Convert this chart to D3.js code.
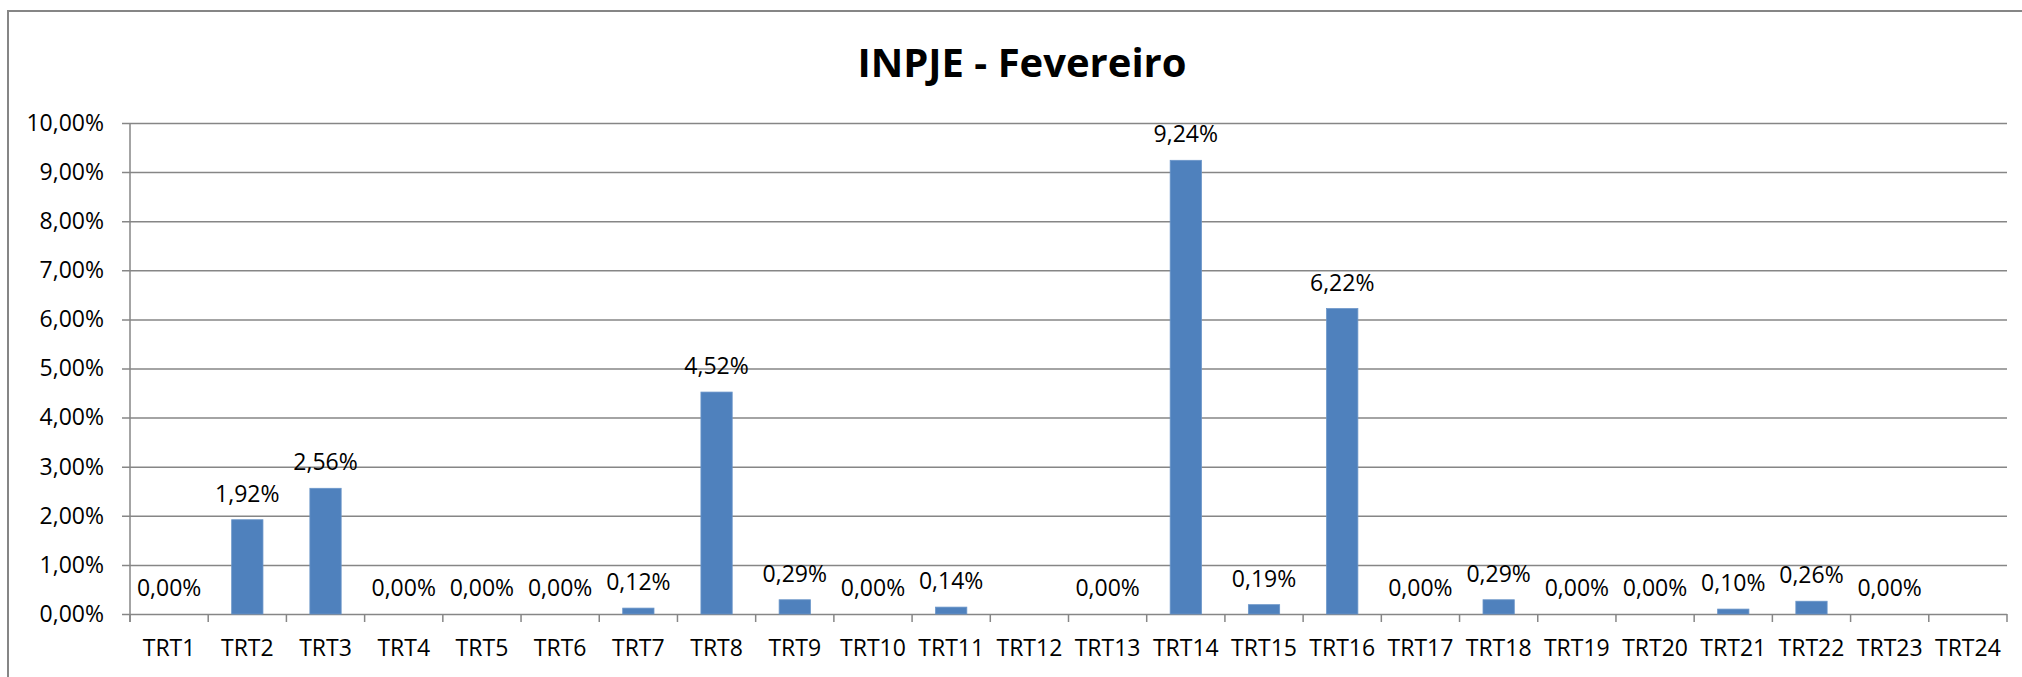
<!DOCTYPE html>
<html>
<head>
<meta charset="utf-8">
<script src="https://cdn.jsdelivr.net/npm/d3@7"></script>
<style>
  body { margin: 0; background: #fff; }
  text { font-family: "Open Sans", sans-serif; fill: #000; }
</style>
</head>
<body>
<div id="chart"></div>
<script>
// Data
const categories = ["TRT1", "TRT2", "TRT3", "TRT4", "TRT5", "TRT6", "TRT7", "TRT8",
    "TRT9", "TRT10", "TRT11", "TRT12", "TRT13", "TRT14", "TRT15", "TRT16",
    "TRT17", "TRT18", "TRT19", "TRT20", "TRT21", "TRT22", "TRT23", "TRT24"];
const values = [0.0000, 0.0192, 0.0256, 0.0000, 0.0000, 0.0000, 0.0012, 0.0452,
    0.0029, 0.0000, 0.0014, null, 0.0000, 0.0924, 0.0019, 0.0622,
    0.0000, 0.0029, 0.0000, 0.0000, 0.0010, 0.0026, 0.0000, null];
const yTicks = [0, 0.01, 0.02, 0.03, 0.04, 0.05, 0.06, 0.07, 0.08, 0.09, 0.10];
const chartTitle = "INPJE - Fevereiro";

const W = 2022, H = 677;
const margin = { top: 123, right: 15, bottom: 63, left: 130 };
const width = W - margin.left - margin.right;
const height = H - margin.top - margin.bottom;

const pct = v => (v * 100).toFixed(2).replace(".", ",") + "%";

const root = d3.select("#chart").append("svg")
    .attr("width", W)
    .attr("height", H);

// outer chart border (right and bottom edges fall outside the picture)
root.append("rect")
    .attr("x", 8).attr("y", 11)
    .attr("width", W + 20).attr("height", H + 20)
    .attr("fill", "none")
    .attr("stroke", "#868686")
    .attr("stroke-width", 2);

root.append("text")
    .attr("x", 1022)
    .attr("y", 77)
    .attr("text-anchor", "middle")
    .style("font-size", "40px")
    .style("font-weight", "bold")
    .text(chartTitle);

const svg = root.append("g")
    .attr("transform", `translate(${margin.left},${margin.top})`);

const x = d3.scaleBand()
    .domain(categories)
    .range([0, width])
    .paddingInner(0.6)
    .paddingOuter(0.3);

const y = d3.scaleLinear()
    .domain([0, 0.10])
    .range([height, 0]);

// gridlines + y labels
const yAxis = svg.append("g")
    .attr("class", "y axis")
    .call(d3.axisLeft(y).tickValues(yTicks).tickFormat(pct)
        .tickSize(-width).tickPadding(0));
yAxis.select(".domain").remove();
yAxis.selectAll(".tick line")
    .attr("x1", -8)
    .attr("stroke", "#868686")
    .attr("stroke-width", 1.5);
yAxis.selectAll(".tick text")
    .attr("x", -26)
    .style("font-size", "23px");

// vertical axis line
svg.append("line")
    .attr("x1", 0).attr("x2", 0)
    .attr("y1", y(0.10)).attr("y2", height + 8)
    .attr("stroke", "#868686")
    .attr("stroke-width", 1.5);

// category boundary ticks (band starts + right end)
const gap = (x.step() - x.bandwidth()) / 2;
const edges = categories.map(c => x(c) - gap);
edges.push(x.range()[1]);
svg.selectAll(".cat-tick")
    .data(edges)
    .enter()
    .append("line")
    .attr("class", "cat-tick")
    .attr("x1", d => d).attr("x2", d => d)
    .attr("y1", height).attr("y2", height + 8)
    .attr("stroke", "#868686")
    .attr("stroke-width", 1.5);

// x labels
const xAxis = svg.append("g")
    .attr("class", "x axis")
    .attr("transform", `translate(0,${height})`)
    .call(d3.axisBottom(x).tickSize(0).tickPadding(26));
xAxis.select(".domain").remove();
xAxis.selectAll(".tick text").style("font-size", "23px");

const data = categories.map((c, i) => ({ cat: c, val: values[i] }));

// bars
svg.selectAll(".bar")
    .data(data.filter(d => d.val !== null && d.val > 0))
    .enter()
    .append("rect")
    .attr("class", "bar")
    .attr("x", d => x(d.cat))
    .attr("y", d => y(d.val))
    .attr("width", x.bandwidth())
    .attr("height", d => y(0) - y(d.val))
    .attr("fill", "#4F81BD")
    .attr("stroke", "#6A95C9")
    .attr("stroke-width", 0.8);

// data labels
svg.selectAll(".val-label")
    .data(data.filter(d => d.val !== null))
    .enter()
    .append("text")
    .attr("class", "val-label")
    .attr("x", d => x(d.cat) + x.bandwidth() / 2)
    .attr("y", d => y(d.val) - 26)
    .attr("dy", "0.35em")
    .attr("text-anchor", "middle")
    .style("font-size", "23px")
    .text(d => pct(d.val));
</script>
</body>
</html>
